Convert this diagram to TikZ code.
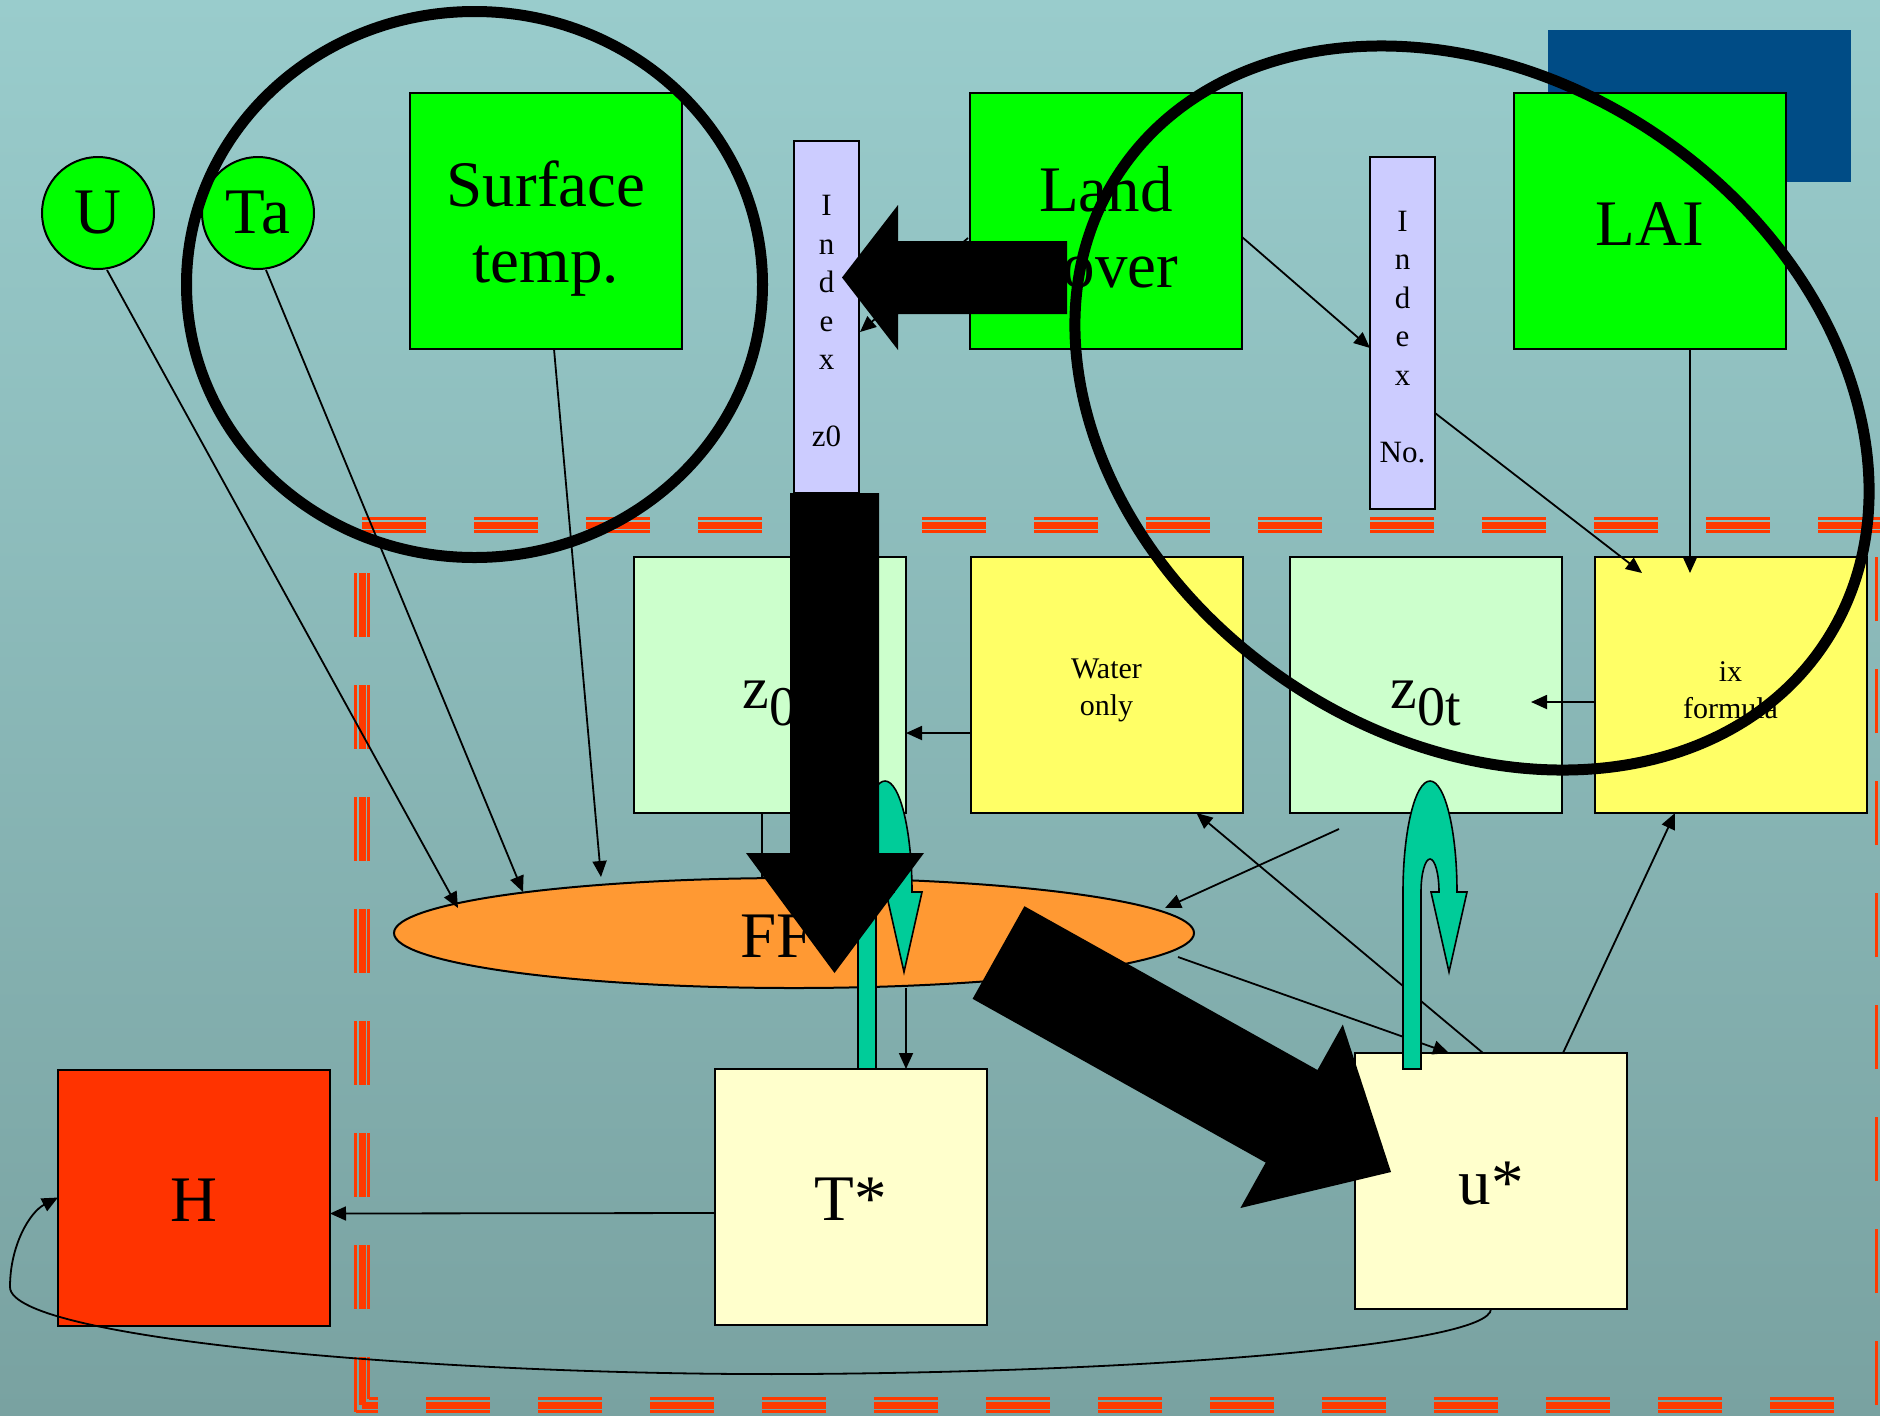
\documentclass[tikz,border=0pt]{standalone}
\usepackage{fontspec}
\setmainfont{Liberation Serif}
\usetikzlibrary{arrows.meta,calc,shapes.geometric}
\definecolor{bgtop}{RGB}{153,204,204}
\definecolor{bgbot}{RGB}{121,162,161}
\definecolor{vgreen}{RGB}{0,255,0}
\definecolor{lgreen}{RGB}{204,255,204}
\definecolor{yel}{RGB}{255,255,102}
\definecolor{lyel}{RGB}{255,255,204}
\definecolor{lav}{RGB}{204,204,255}
\definecolor{orng}{RGB}{255,153,51}
\definecolor{hred}{RGB}{255,51,0}
\definecolor{tealc}{RGB}{0,204,153}
\definecolor{navyc}{RGB}{0,76,134}
\definecolor{dashred}{RGB}{255,58,0}
\begin{document}
\begin{tikzpicture}[x=0.5pt,y=-0.5pt,
  box/.style={draw=black,line width=1pt,inner sep=0pt,outer sep=0pt,minimum width=136pt,minimum height=128pt,align=center},
  bigtxt/.style={font=\fontsize{32.5}{38}\selectfont},
  smalltxt/.style={font=\fontsize{15}{18.5}\selectfont},
  txt/.style={inner sep=0pt,align=center},
  idxbox/.style={draw=black,line width=1pt,fill=lav,inner sep=0pt,outer sep=0pt,minimum width=32.5pt,minimum height=176pt},
  idxtxt/.style={inner sep=0pt,align=center,font=\fontsize{15.5}{19.25}\selectfont},
  conn/.style={line width=0.9pt,-{Triangle[length=8pt,width=7pt]}},
  thinred/.style={draw=dashred,line width=1.5pt,dash pattern=on 32pt off 24pt},
  thickred/.style={draw=dashred,line width=3.5pt,dash pattern=on 32pt off 24pt},
  tealarrow/.style={fill=tealc,draw=black,line width=0.8pt},
  blockarrow/.style={fill=black,draw=none},
  bigring/.style={draw=black,line width=5.5pt}]
\useasboundingbox (0,0) rectangle (1880,1415);
\clip (0,0) rectangle (1880,1415);
\shade[top color=bgtop,bottom color=bgbot] (0,0) rectangle (1880,1415);
% blue rectangle
\fill[navyc] (1548,30) rectangle (1851,182);
% dashed triple border
\draw[thinred,dash phase=32pt] (355.5,525) -- (355.5,1411.5);
\draw[thickred,dash phase=32pt] (362,525) -- (362,1405);
\draw[thinred,dash phase=32pt] (368.5,525) -- (368.5,1398.5);
\draw[thinred,dash phase=20.75pt] (355.5,1411.5) -- (1889.5,1411.5);
\draw[thickred,dash phase=24pt] (362,1405) -- (1883,1405);
\draw[thinred,dash phase=27.25pt] (368.5,1398.5) -- (1876.5,1398.5);
\draw[thinred] (1876.5,1405) -- (1876.5,525);
\draw[thickred] (1883,1405) -- (1883,525);
\draw[thinred] (1889.5,1405) -- (1889.5,525);
\draw[thinred] (362,518.5) -- (1883,518.5);
\draw[thickred] (362,525) -- (1883,525);
\draw[thinred] (362,531.5) -- (1883,531.5);
% nodes
\node[box,fill=vgreen] (surf) at (546,221) {};
\node[txt,bigtxt] (surft) at (546,229) {Surface\\temp.};
\node[box,fill=vgreen] (land) at (1106,221) {};
\node[txt,bigtxt] (landt) at (1106,227) {Land\\cover};
\node[box,fill=vgreen] (lai) at (1650,221) {};
\node[txt,bigtxt] (lait) at (1650,224) {LAI};
\node[circle,draw=black,line width=1pt,fill=vgreen,minimum size=56pt,inner sep=0pt,outer sep=0pt,bigtxt] (U) at (98,213) {U};
\node[circle,draw=black,line width=1pt,fill=vgreen,minimum size=56pt,inner sep=0pt,outer sep=0pt,bigtxt] (Ta) at (258,213) {Ta};
\node[idxbox] (idxz) at (826.5,317) {};
\node[idxtxt] (idxzt) at (826.5,321) {I\\n\\d\\e\\x\\[19.25pt]z0};
\node[idxbox] (idxn) at (1402.5,333) {};
\node[idxtxt] (idxnt) at (1402.5,337) {I\\n\\d\\e\\x\\[19.25pt]No.};
\node[box,fill=lgreen] (zbox) at (770,685) {};
\node[anchor=base,inner sep=0pt,font=\fontsize{30}{30}\selectfont] (zlab) at (770,708) {z\raisebox{-8.5pt}{\fontsize{28}{28}\selectfont 0}};
\node[box,fill=yel] (water) at (1106.5,685) {};
\node[txt,smalltxt] (watert) at (1106.5,690) {Water\\only};
\node[box,fill=lgreen] (zt) at (1426,685) {};
\node[anchor=base,inner sep=0pt,font=\fontsize{30}{30}\selectfont] (ztlab) at (1426,708) {z\raisebox{-8.5pt}{\fontsize{28}{28}\selectfont 0t}};
\node[box,fill=yel] (mix) at (1730.5,685) {};
\node[txt,smalltxt] (mixt) at (1730.5,690) {ix\\formula};
\node[ellipse,draw=black,line width=1pt,fill=orng,minimum width=400pt,minimum height=55pt,inner sep=0pt,outer sep=0pt] (FF) at (794,933) {};
\node[bigtxt,anchor=base west,inner sep=0pt] (fflab) at (740,957) {FF};
\node[box,fill=lyel] (tstar) at (851,1197) {};
\node[txt,bigtxt] (tstart) at (851,1199) {T*};
\node[box,fill=lyel] (ustar) at (1491,1181) {};
\node[txt,bigtxt] (ustart) at (1491,1184) {u*};
\node[box,fill=hred] (H) at (194,1197.5) {};
\node[txt,bigtxt] (Ht) at (194,1200) {H};
% connectors
\draw[conn] ($(U)+(9,57)$) -- ($(FF)+(-336,-25)$);
\draw[conn] ($(Ta)+(8,57)$) -- ($(FF)+(-271,-41)$);
\draw[conn] ($(surf.south)+(8,0)$) -- ($(FF)+(-193,-56)$);
\draw[conn] ($(land.west)+(-2,17)$) -- ($(idxz)+(33.5,15)$);
\draw[conn] ($(land.east)+(0,16)$) -- ($(idxn)+(-32.5,15)$);
\draw[conn] ($(idxn)+(32.5,80)$) -- ($(mix)+(-88.5,-112)$);
\draw[conn] ($(lai.south)+(40,0)$) -- ($(mix)+(-40.5,-112)$);
\draw[conn] ($(water.west)+(0,48)$) -- ($(zbox.east)+(0,48)$);
\draw[conn] ($(mix.west)+(0,17)$) -- ($(zt)+(105,17)$);
\draw[line width=0.9pt] ($(zbox.south)+(-8,0)$) -- ($(FF)+(-32,-56)$);
\draw[conn] ($(FF)+(112,55)$) -- ($(tstar.north)+(55,0)$);
\draw[conn] ($(tstar.west)+(0,16)$) -- ($(H.east)+(0,16)$);
\draw[conn] ($(zt)+(-87,144)$) -- ($(FF)+(371,-25)$);
\draw[conn] ($(FF)+(384,24)$) -- ($(ustar.north)+(-42,0)$);
\draw[conn] ($(ustar.north)+(-8,0)$) -- ($(water.south)+(90,0)$);
\draw[conn] ($(ustar.north)+(72,0)$) -- ($(mix.south)+(-55.5,0)$);
\draw[conn] (ustar.south) .. controls (1490,1345) and (1150,1372) .. (800,1374)
   .. controls (450,1376) and (10,1340) .. (10,1287)
   .. controls (10,1245) and (30,1212) .. (H.west);
% teal U-turn arrows
\draw[tealarrow] (1403,1069) -- (1403,892) .. controls (1403,830.7) and (1415.1,781) .. (1430,781)
   .. controls (1444.9,781) and (1457,830.7) .. (1457,892) -- (1467,892) -- (1449,972) -- (1431,892) -- (1439,892)
   .. controls (1439,873.8) and (1435,859) .. (1430,859) .. controls (1425,859) and (1421,873.8) .. (1421,892)
   -- (1421,1069) -- cycle;
\draw[tealarrow] (858,1069) -- (858,892) .. controls (858,830.7) and (870.1,781) .. (885,781)
   .. controls (899.9,781) and (912,830.7) .. (912,892) -- (922,892) -- (904,972) -- (886,892) -- (894,892)
   .. controls (894,873.8) and (890,859) .. (885,859) .. controls (880,859) and (876,873.8) .. (876,892)
   -- (876,1069) -- cycle;
% black block arrows
\fill[blockarrow] (1067,241) -- (898,241) -- (898,205) -- (842,277.5) -- (898,350) -- (898,314) -- (1067,314) -- cycle;
\fill[blockarrow] (790,493) -- (879,493) -- (879,853) -- (924,853) -- (834.5,973) -- (746,853) -- (790,853) -- cycle;
\fill[blockarrow] (1024.4,906.2) -- (1317.5,1070) -- (1342.8,1024.6) -- (1391,1172) -- (1240.4,1208) -- (1265.7,1162.6) -- (972.6,998.8) -- cycle;
% black rings
\draw[bigring] (474.5,284.5) ellipse [x radius=288, y radius=273];
\draw[bigring,rotate around={-34:(1472,408)}] (1472,408) ellipse [x radius=424, y radius=330];
\end{tikzpicture}
\end{document}
